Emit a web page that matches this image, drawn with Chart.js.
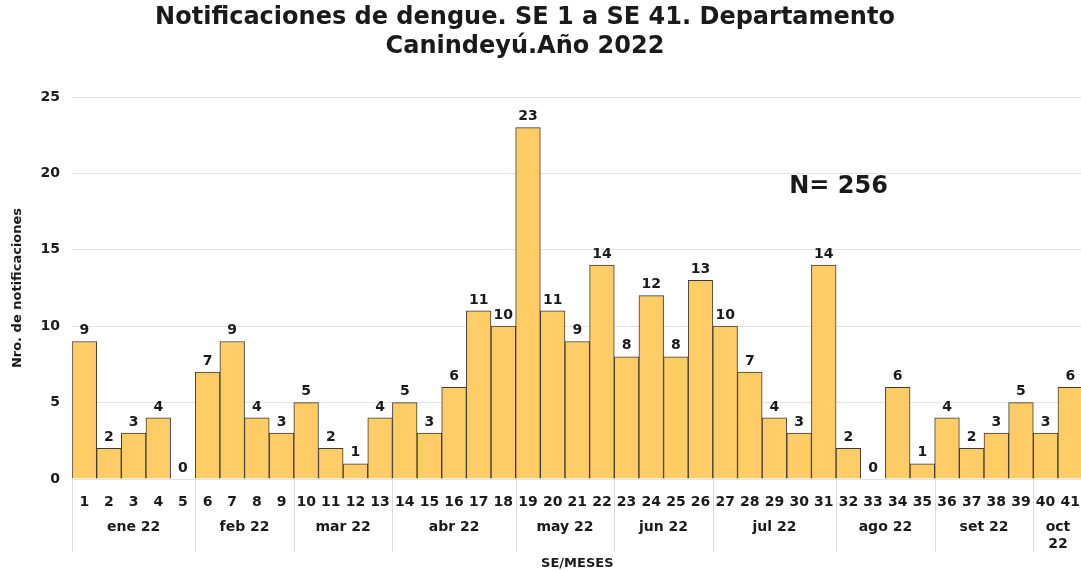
<!DOCTYPE html>
<html>
<head>
<meta charset="utf-8">
<script src="https://cdn.jsdelivr.net/npm/chart.js@4/dist/chart.umd.min.js"></script>
<style>
  html, body { margin: 0; padding: 0; background: #fff; overflow: hidden; }
  #wrap { width: 1081px; height: 571px; overflow: hidden; }
</style>
</head>
<body>
<div id="wrap"><canvas id="dengueChart" width="1087" height="571"></canvas></div>
<script>
const weeks = ["1","2","3","4","5","6","7","8","9","10","11","12","13","14","15","16","17","18","19","20",
               "21","22","23","24","25","26","27","28","29","30","31","32","33","34","35","36","37","38","39","40","41"];
const cases = [9,2,3,4,0, 7,9,4,3, 5,2,1,4, 5,3,6,11,10, 23,11,9,14, 8,12,8,13,
               10,7,4,3,14, 2,0,6,1, 4,2,3,5, 3,6];
const months = ["ene 22","feb 22","mar 22","abr 22","may 22","jun 22","jul 22","ago 22","set 22","oct 22"];
const weeksPerMonth = [5,4,4,5,4,4,5,4,4,2];
const titleLines = ["Notificaciones de dengue. SE 1 a SE 41. Departamento", "Canindeyú.Año 2022"];
const totalText = "N= 256";

const FONT = '"DejaVu Sans", Verdana, sans-serif';
const TEXT = "#1a1a1a";

// labels on bars, month groups under the axis, title and total
const extras = {
    id: "extras",
    afterDraw(chart) {
        const { ctx, chartArea, scales: { x, y } } = chart;
        ctx.save();
        ctx.fillStyle = TEXT;

        // value labels
        ctx.font = "bold 14px " + FONT;
        ctx.textAlign = "center";
        ctx.textBaseline = "bottom";
        chart.getDatasetMeta(0).data.forEach(function (bar, i) {
            ctx.fillText(String(cases[i]), bar.x, bar.y - 4);
        });

        // month groups
        const half = (x.getPixelForValue(1) - x.getPixelForValue(0)) / 2;
        const bottom = chartArea.bottom;
        let start = 0;
        ctx.strokeStyle = "#d9d9d9";
        ctx.lineWidth = 1;
        months.forEach(function (m, k) {
            const end = start + weeksPerMonth[k] - 1;
            const left = x.getPixelForValue(start) - half;
            const right = x.getPixelForValue(end) + half;
            ctx.beginPath();
            ctx.moveTo(Math.round(left) + 0.5, bottom);
            ctx.lineTo(Math.round(left) + 0.5, bottom + 73);
            ctx.stroke();
            const cx = (left + right) / 2;
            ctx.textBaseline = "middle";
            if (ctx.measureText(m).width > right - left - 4) {
                const parts = m.split(" ");
                ctx.fillText(parts[0], cx, bottom + 48);
                ctx.fillText(parts[1], cx, bottom + 65);
            } else {
                ctx.fillText(m, cx, bottom + 48);
            }
            start = end + 1;
        });

        // title
        ctx.font = "bold 24px " + FONT;
        ctx.textBaseline = "middle";
        ctx.fillText(titleLines[0], 525, 18);
        ctx.fillText(titleLines[1], 525, 47);

        // total
        ctx.fillText(totalText, x.getPixelForValue(30.6), y.getPixelForValue(19.1));
        ctx.restore();
    }
};

new Chart(document.getElementById("dengueChart"), {
    type: "bar",
    data: {
        labels: weeks,
        datasets: [{
            label: "Notificaciones",
            data: cases,
            backgroundColor: "#ffcc66",
            borderColor: "#3a3a3a",
            borderWidth: 1,
            barPercentage: 1,
            categoryPercentage: 1
        }]
    },
    options: {
        responsive: false,
        animation: false,
        devicePixelRatio: 1,
        layout: { padding: { top: 97, right: 0, bottom: 0, left: 0 } },
        plugins: {
            legend: { display: false },
            tooltip: { enabled: false },
            title: { display: false }
        },
        scales: {
            x: {
                grid: { display: false },
                border: { display: false },
                ticks: {
                    autoSkip: false,
                    maxRotation: 0,
                    padding: 7,
                    color: TEXT,
                    font: { family: FONT, size: 14, weight: "bold" }
                },
                title: {
                    display: true,
                    text: "SE/MESES",
                    color: TEXT,
                    padding: { top: 0, bottom: 0 },
                    font: { family: FONT, size: 13, weight: "bold" }
                },
                afterFit: function (scale) { scale.height = 92; }
            },
            y: {
                min: 0,
                max: 25,
                grid: { color: "#e3e3e3", drawTicks: false },
                border: { display: false },
                ticks: {
                    stepSize: 5,
                    padding: 12,
                    color: TEXT,
                    font: { family: FONT, size: 14, weight: "bold" }
                },
                title: {
                    display: true,
                    text: "Nro. de notificaciones",
                    color: TEXT,
                    padding: { top: 10, bottom: 0 },
                    font: { family: FONT, size: 13, weight: "bold" }
                },
                afterFit: function (scale) { scale.width = 72; }
            }
        }
    },
    plugins: [extras]
});
</script>
</body>
</html>
